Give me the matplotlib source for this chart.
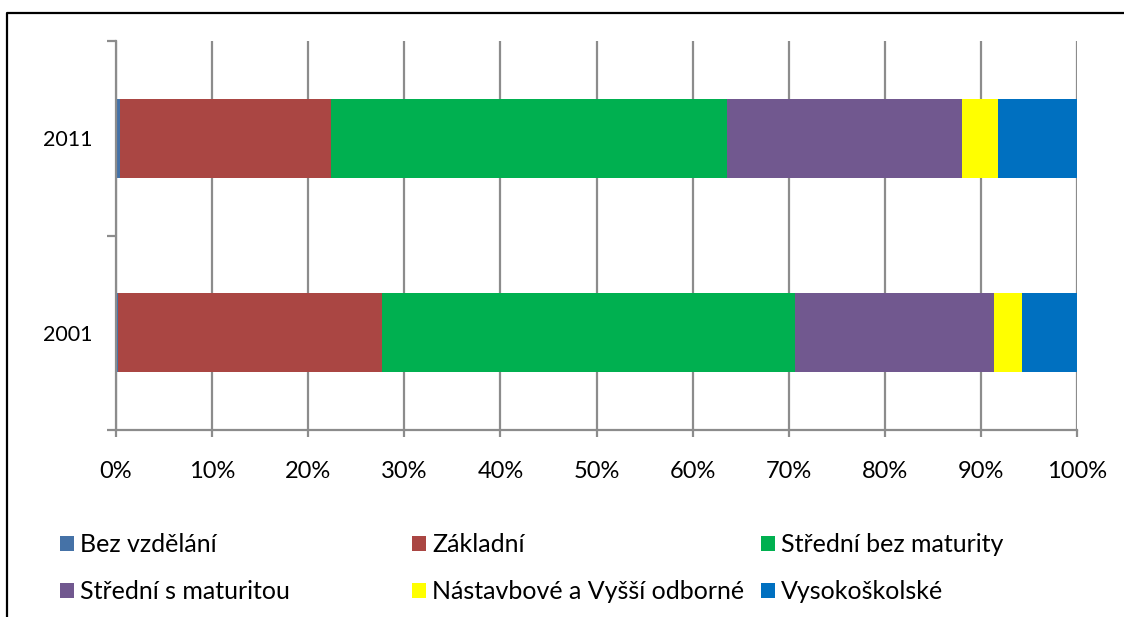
import matplotlib.pyplot as plt
import numpy as np
from matplotlib.lines import Line2D
from matplotlib.patches import Patch

roky = ['2001', '2011']
kategorie = ['Bez vzdělání', 'Základní', 'Střední bez maturity',
             'Střední s maturitou', 'Nástavbové a Vyšší odborné', 'Vysokoškolské']
podily_2001 = [0.2, 27.5, 43.0, 20.7, 2.9, 5.7]
podily_2011 = [0.4, 22.0, 41.2, 24.4, 3.8, 8.2]
osa_x = [0, 10, 20, 30, 40, 50, 60, 70, 80, 90, 100]
osa_x_popisky = [str(v) + '%' for v in osa_x]

barvy = ['#4572A7', '#AA4643', '#00B050', '#71588F', '#FFFF00', '#0070C0']
seda = '#8C8C8C'

plt.rcParams['font.family'] = ['Lato', 'DejaVu Sans']

W, H = 1124, 617
fig = plt.figure(figsize=(W / 100, H / 100), dpi=100)
ax = fig.add_axes([116 / W, 1 - 430 / H, (1077 - 116) / W, (430 - 41) / H])

data = np.array([podily_2001, podily_2011])
y = np.arange(len(roky))
zleva = np.zeros(len(roky))
for i, nazev in enumerate(kategorie):
    ax.barh(y, data[:, i], left=zleva, height=0.406, color=barvy[i],
            edgecolor='none', zorder=3)
    zleva += data[:, i]

ax.set_xlim(0, 100)
ax.set_ylim(-0.5, 1.5)
ax.set_xticks(osa_x)
ax.set_xticklabels(osa_x_popisky)
ax.grid(axis='x', color=seda, linewidth=1.6, zorder=0)

# ticky mezi kategoriemi, popisky uprostred
ax.set_yticks([-0.5, 0.5, 1.5])
ax.set_yticklabels([])
ax.set_yticks(y, minor=True)
ax.set_yticklabels(roky, minor=True)
ax.tick_params(axis='y', which='major', length=6.5, width=1.6, color=seda)
ax.tick_params(axis='y', which='minor', length=0, pad=17, labelsize=15.5)
ax.tick_params(axis='x', length=5, width=1.6, color=seda, pad=17, labelsize=17)

for s in ['top', 'right']:
    ax.spines[s].set_visible(False)
for s in ['left', 'bottom']:
    ax.spines[s].set_color(seda)
    ax.spines[s].set_linewidth(1.6)
    ax.spines[s].set_zorder(4)

# legenda ve trech sloupcich
sloupce_x = [60, 412, 761]
for k in range(3):
    polozky = [kategorie[k], kategorie[k + 3]]
    ruce = [Patch(facecolor=barvy[k], edgecolor='none'),
            Patch(facecolor=barvy[k + 3], edgecolor='none')]
    leg = fig.legend(ruce, polozky, loc='upper left',
                     bbox_to_anchor=(sloupce_x[k] / W, 1 - 533 / H),
                     frameon=False, fontsize=18, handlelength=0.55,
                     handleheight=0.55, handletextpad=0.25, labelspacing=0.96,
                     borderaxespad=0, borderpad=0)

# ramecek grafu
fig.add_artist(Line2D([7 / W, 7 / W, 1], [0, 1 - 12.5 / H, 1 - 12.5 / H],
                      color='black', linewidth=1.6))

fig.savefig('out.png', dpi=100)
